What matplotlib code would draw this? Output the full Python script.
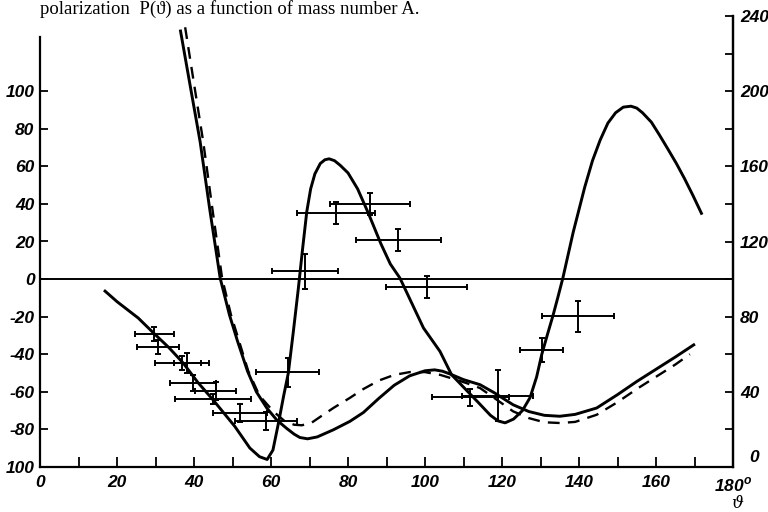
import numpy as np
import matplotlib
matplotlib.use("Agg")
import matplotlib.pyplot as plt

# polarization curves P(theta)
theta_a = [16.9, 20, 25.5, 29.7, 33.5, 37.2, 41, 45, 50.6, 54.5, 57, 59, 60.5, 62, 63.3,
           64.5, 65.8, 67.1, 68.2, 69.3, 70.3, 71.4, 72.8, 74, 75.1, 76.5, 78, 80, 82.5,
           85.3, 88.5, 91, 93.5, 99.6, 103.9, 106.9, 110, 114, 117, 119, 120.8, 123,
           125.3, 127.3, 129, 130.3, 131.8, 133.3, 134.6, 135.8, 138.5, 141.5, 143.5,
           145.5, 147.5, 149.5, 151.5, 153.5, 155, 156.5, 158.8, 160.8, 163, 165.3, 167.4,
           169.6, 171.8]
p_a = [-6.4, -12, -20.7, -29.1, -36.5, -44.7, -55, -64.4, -78.4, -89.9, -94.5, -96, -91,
       -76, -62, -50, -28, -5, 16, 36, 48, 56, 61.5, 63.5, 64, 63, 60.5, 56.5, 48,
       35, 19, 8, 0.5, -26, -38.5, -50.9, -57.5, -66, -72.5, -75.5, -76.5, -74.5,
       -70, -63, -52, -40.3, -29.5, -19, -9, 0.5, 25, 49, 63,
       74, 83, 88.5, 91.5, 92, 91, 88.5, 83.5, 77, 69.5, 61.5, 53.5,
       44.5, 35]

theta_b = [36.5, 39, 41.6, 44.1, 46.8, 49.2, 51.3, 53.9, 56.2, 58.9, 61.5, 64.1, 66, 67.5,
           69.5, 72, 76.2, 80.5, 84, 88, 92, 96, 100, 102.5, 104.5, 106.5, 110, 114.3,
           118, 122.9, 127, 131, 135, 139, 144.6, 150, 155, 160, 165, 169.8]
p_b = [132, 103, 73, 37, 0.5, -19, -33, -49, -60, -68.6, -75, -79.5, -82.5, -84.3,
       -85, -84, -80.2, -75.7, -71, -63.5, -56.5, -51.5, -48.8, -48.3, -49, -50.5, -53.5, -56.2,
       -60.5, -66.9, -70.5, -72.5, -73, -72, -68.6, -61.5, -54.5, -48, -41.5, -35]

theta_c = [37.7, 40, 42.4, 44.8, 47.3, 49.6, 51.7, 54.1, 57, 60.6, 63.5, 66, 68, 70.5,
           73, 76.2, 80.5, 84, 88, 92, 96, 100, 104, 108, 111, 114.3, 118.5, 122.9, 127,
           131, 135.1, 139, 144.6, 150, 155, 160, 165, 168.8]
p_c = [134, 104, 73, 37, 0.5, -19, -33, -49, -62, -70.4, -75.5, -77.5, -77.8, -76.5,
       -73, -68.6, -63.2, -58.5, -54, -51, -49.5, -49.5, -51, -53.5, -55.5, -58, -64, -70.4, -74,
       -76.2, -76.6, -76, -72.2, -65.5, -58.5, -52, -45.5, -40]

# measured points with angular and polarization errors
pt_theta = [29.7, 30.7, 36.8, 38.3, 39.8, 45.6, 44.9, 51.9, 58.7, 64.3, 68.8, 76.9,
            85.7, 93.1, 100.4, 111.7, 118.9, 130.3, 139.8]
pt_p = [-29.1, -36.2, -44.7, -44.7, -55.3, -59.6, -63.8, -71.3, -75.5, -49.5, 4.1, 35.1,
        40, 20.9, -4.3, -63, -62, -37.6, -19.8]
pt_dtheta = [5, 5.4, 7, 3.5, 6, 5.4, 9.8, 7, 8.1, 8.1, 8.5, 10.1, 10.5, 11, 10.6, 10,
             9.2, 5.5, 9.4]
pt_dp = [3.7, 3.7, 3.6, 5.5, 4.2, 4.7, 2.5, 4.6, 4.9, 7.7, 9.3, 5.7, 6, 6, 5.7, 4.4,
         13.4, 6.4, 8.4]

left_ticks = [100, 80, 60, 40, 20, 0, -20, -40, -60, -80, -100]
left_labels = ["100", "80", "60", "40", "20", "0", "-20", "-40", "-60", "-80", "100"]
right_ticks = [40, 80, 120, 160, 200, 240]
x_ticks = [0, 20, 40, 60, 80, 100, 120, 140, 160, 180]
x_labels = ["0", "20", "40", "60", "80", "100", "120", "140", "160", "180$^\\mathregular{o}$"]

tick_font = dict(family=["Liberation Sans", "DejaVu Sans"], style="italic",
                 size=12.5, weight="bold")

fig = plt.figure(figsize=(7.68, 5.12), dpi=100)
ax = fig.add_axes([40 / 768, 45 / 512, 693 / 768, 451 / 512])
ax.set_xlim(0, 180)
ax.set_ylim(-100, 140)

ax.plot(theta_a, p_a, color="k", lw=2.1, solid_joinstyle="round")
ax.plot(theta_b, p_b, color="k", lw=2.1, solid_joinstyle="round")
ax.plot(theta_c, p_c, color="k", lw=1.7, linestyle=(0, (5, 3.5)))
ax.axhline(0, color="k", lw=1.4)

ax.errorbar(pt_theta, pt_p, xerr=pt_dtheta, yerr=pt_dp, fmt="none", ecolor="k",
            elinewidth=1.4, capsize=2.5, capthick=1.4)

# axes frame: left axis stops short, right axis carries the 0..240 scale
ax.spines["top"].set_visible(False)
ax.spines["left"].set_bounds(-100, 129)
for side in ["left", "bottom", "right"]:
    ax.spines[side].set_linewidth(1.6)

ax.set_yticks(left_ticks)
ax.set_yticklabels(left_labels, fontdict=tick_font)
ax.tick_params(axis="y", direction="in", length=6, width=1.3, pad=4)

ax.set_xticks(x_ticks)
ax.set_xticks(np.arange(10, 180, 20), minor=True)
ax.set_xticklabels(x_labels, fontdict=tick_font)
ax.tick_params(axis="x", which="both", direction="in", length=7, width=1.3, pad=6)

ax2 = ax.twinx()
ax2.set_position(ax.get_position())
ax2.set_ylim(0, 240)
for side in ["top", "left", "bottom"]:
    ax2.spines[side].set_visible(False)
ax2.spines["right"].set_linewidth(1.6)
ax2.set_yticks(right_ticks)
ax2.set_yticks([20, 60, 100, 140, 180, 220], minor=True)
ax2.set_yticklabels([str(v) for v in right_ticks], fontdict=tick_font)
ax2.tick_params(axis="y", which="both", direction="in", length=6, width=1.3, pad=5)

fig.text(749 / 768, 1 - 457 / 512, "0", ha="left", va="center", **tick_font)
fig.text(737 / 768, 1 - 503 / 512, "ϑ", ha="center", va="center",
         family="DejaVu Serif", style="italic", size=12)

fig.text(40 / 768, 1 - 14 / 512, "polarization  P(ϑ) as a function of mass number A.",
         ha="left", va="baseline", family=["Liberation Serif", "DejaVu Serif"], size=13.5)

fig.savefig("out.png", dpi=100)
